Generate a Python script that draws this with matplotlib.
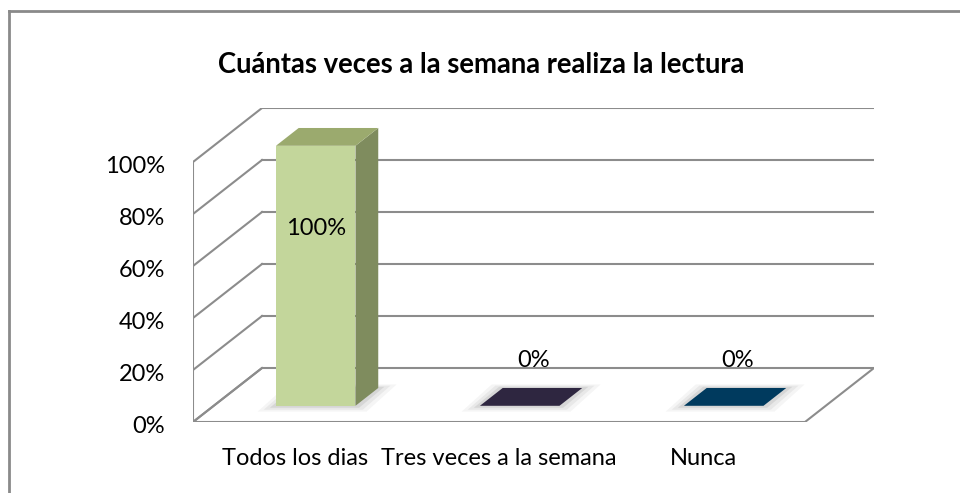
import matplotlib
matplotlib.use("Agg")
import matplotlib.pyplot as plt
from matplotlib.patches import Polygon
from matplotlib.lines import Line2D

# ---- data ----
categories = ["Todos los dias", "Tres veces a la semana", "Nunca"]
values = [1.00, 0.00, 0.00]
value_labels = ["100%", "0%", "0%"]
yticks = [0.0, 0.2, 0.4, 0.6, 0.8, 1.0]
ytick_labels = ["0%", "20%", "40%", "60%", "80%", "100%"]
title = "Cuántas veces a la semana realiza la lectura"

# ---- style ----
front_colors = ["#C3D69B", "#2E2640", "#003A5E"]
side_colors = ["#7F8C5E", "#1E1830", "#00263F"]
top_colors = ["#9BAA6E", "#2E2640", "#003A5E"]
grid_color = "#8C8C8C"
FONT = "Lato"
FS = 17

W, H = 960, 493
fig = plt.figure(figsize=(W / 100, H / 100), dpi=100)
fig.patch.set_facecolor("white")

# layout in pixels
x0_px, y0_px = 193, 422          # front-left floor corner
cat_px = 204                      # width of one category on the front plane
val_px = 260                      # pixels for 100 %
dep_px = (69, 54)                 # depth vector (right, up)

ncat = len(categories)
ddx = dep_px[0] / cat_px
ddy = dep_px[1] / val_px
ax_w = (ncat * cat_px + dep_px[0])
ax_h = (val_px + dep_px[1])
ax = fig.add_axes([x0_px / W, (H - y0_px) / H, ax_w / W, ax_h / H])
ax.set_xlim(0, ncat + ddx)
ax.set_ylim(0, 1 + ddy)
ax.axis("off")

lw = 1.5
# floor
floor = Polygon([(0, 0), (ncat, 0), (ncat + ddx, ddy), (ddx, ddy)], closed=True,
                facecolor="white", edgecolor=grid_color, lw=lw, zorder=1)
ax.add_patch(floor)
# left wall front edge
ax.add_line(Line2D([0, 0], [0, yticks[-1]], color=grid_color, lw=lw, zorder=2))
# gridlines: side wall diagonals + back wall horizontals
for t in yticks:
    ax.add_line(Line2D([0, ddx], [t, t + ddy], color=grid_color, lw=lw, zorder=2))
    if t > 0:
        ax.add_line(Line2D([ddx, ncat + ddx], [t + ddy, t + ddy], color=grid_color, lw=lw, zorder=2))

# tick labels
for t, lab in zip(yticks, ytick_labels):
    ax.text(-0.137, t - 0.042, lab, ha="right", va="baseline", fontsize=FS, family=FONT,
            color="black", clip_on=False)

# bars
bw = 0.39
d0, d1 = 0.30, 0.63
for i, (v, lab) in enumerate(zip(values, value_labels)):
    xl = i + 0.5 - bw / 2
    xr = i + 0.5 + bw / 2
    fx, fy = d0 * ddx, d0 * ddy
    bx, by = d1 * ddx, d1 * ddy
    # soft shadow on floor
    for k, a in enumerate([0.05, 0.07, 0.10]):
        g = (3 - k) * 0.03
        sh = Polygon([(xl + fx - g, fy - g * 0.25), (xr + fx + g * 0.6, fy - g * 0.25),
                      (xr + bx + g, by + g * 0.15), (xl + bx - g * 0.6, by + g * 0.15)],
                     closed=True, facecolor="#404040", edgecolor="none", alpha=a, zorder=3)
        ax.add_patch(sh)
    if v > 0:
        front = Polygon([(xl + fx, fy), (xr + fx, fy), (xr + fx, fy + v), (xl + fx, fy + v)],
                        closed=True, facecolor=front_colors[i], edgecolor="none", zorder=5)
        side = Polygon([(xr + fx, fy), (xr + bx, by), (xr + bx, by + v), (xr + fx, fy + v)],
                       closed=True, facecolor=side_colors[i], edgecolor="none", zorder=5)
        ax.add_patch(front)
        ax.add_patch(side)
    top = Polygon([(xl + fx, fy + v), (xr + fx, fy + v), (xr + bx, by + v), (xl + bx, by + v)],
                  closed=True, facecolor=top_colors[i], edgecolor="none", zorder=6)
    ax.add_patch(top)
    if v > 0.5:
        ax.text(i + 0.5 + fx, fy + v * 0.657, lab, ha="center", va="baseline",
                fontsize=FS, family=FONT, zorder=7)
    else:
        ax.text(i + 0.5 + 0.5 * ddx, v + 0.5 * ddy + 0.108, lab, ha="center", va="baseline",
                fontsize=FS, family=FONT, zorder=7)

# category labels
for i, c in enumerate(categories):
    ax.text(i + 0.5, -0.165, c, ha="center", va="baseline", fontsize=FS, family=FONT,
            clip_on=False)

# title
fig.text(481 / W, 1 - 73 / H, title, ha="center", va="baseline", fontsize=19.8,
         fontweight="bold", family=FONT)

# outer border (top & left)
fig.add_artist(Line2D([8.5 / W, 1], [1 - 10.5 / H, 1 - 10.5 / H], transform=fig.transFigure,
                      color="#8A8A8A", lw=2))
fig.add_artist(Line2D([8.5 / W, 8.5 / W], [0, 1 - 10.5 / H], transform=fig.transFigure,
                      color="#8A8A8A", lw=2))

fig.savefig("out.png", dpi=100, facecolor="white")
